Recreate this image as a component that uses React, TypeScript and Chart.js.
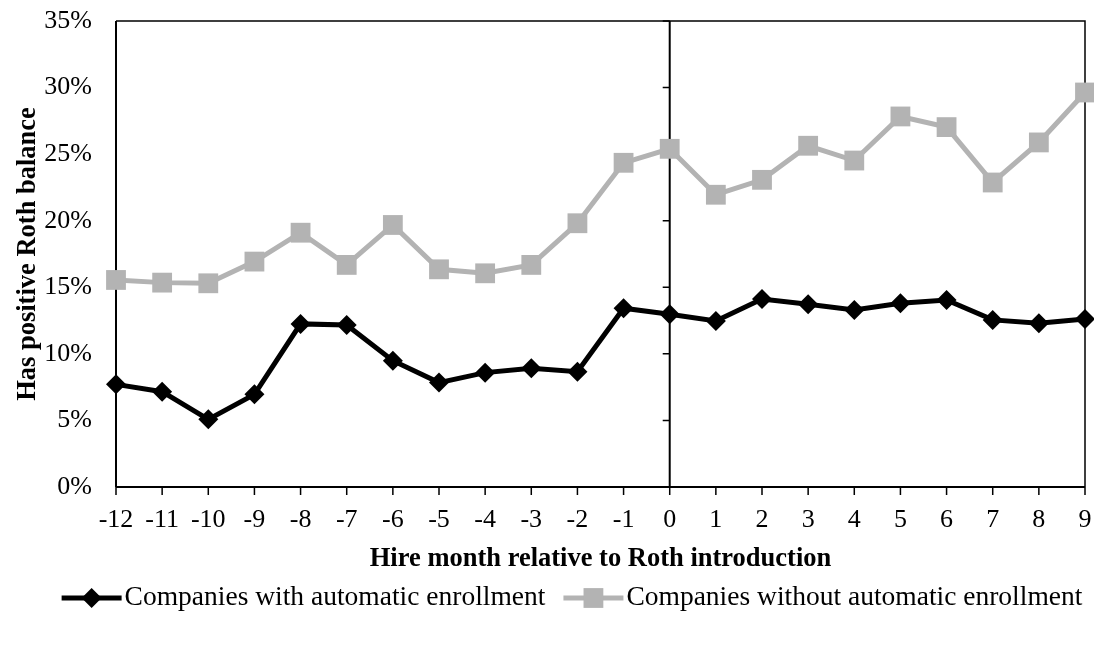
import React, { useEffect, useRef } from 'react';
import { Chart, registerables } from 'chart.js';

Chart.register(...registerables);

const FONT = "'Liberation Serif', 'Times New Roman', Times, serif";

const hireMonths = ['-12', '-11', '-10', '-9', '-8', '-7', '-6', '-5', '-4', '-3', '-2', '-1', '0', '1', '2', '3', '4', '5', '6', '7', '8', '9'];
const withAutoEnroll = [7.71, 7.16, 5.08, 6.96, 12.25, 12.17, 9.49, 7.84, 8.59, 8.92, 8.66, 13.43, 12.97, 12.47, 14.12, 13.72, 13.3, 13.8, 14.05, 12.55, 12.3, 12.62];
const withoutAutoEnroll = [15.55, 15.35, 15.3, 16.93, 19.1, 16.68, 19.68, 16.35, 16.05, 16.68, 19.81, 24.35, 25.4, 21.95, 23.07, 25.63, 24.52, 27.83, 27.03, 22.87, 25.88, 29.63];
const yTickValues = [0, 5, 10, 15, 20, 25, 30, 35];
const seriesNames = ['Companies with automatic enrollment', 'Companies without automatic enrollment'];
const seriesColors = ['#000000', '#b3b3b3'];
const yAxisTitle = 'Has positive Roth balance';
const xAxisTitle = 'Hire month relative to Roth introduction';
const zeroMonth = '0';

const framePlugin = {
  id: 'frame',
  beforeDatasetsDraw(chart: any) {
    const { ctx, chartArea, scales } = chart;
    const { left, right, top, bottom } = chartArea;
    ctx.save();
    ctx.strokeStyle = '#000';
    // x-axis tick marks (outside, below the axis)
    ctx.lineWidth = 1.5;
    ctx.beginPath();
    hireMonths.forEach((_, i) => {
      const px = scales.x.getPixelForValue(i);
      ctx.moveTo(px, bottom);
      ctx.lineTo(px, bottom + 8);
    });
    ctx.stroke();
    ctx.lineWidth = 2;
    ctx.beginPath();
    ctx.moveTo(left, bottom);
    ctx.lineTo(right, bottom);
    ctx.moveTo(left, top);
    ctx.lineTo(left, bottom);
    ctx.stroke();
    ctx.lineWidth = 1.5;
    ctx.beginPath();
    ctx.moveTo(left, top);
    ctx.lineTo(right, top);
    ctx.lineTo(right, bottom);
    ctx.stroke();
    const zx = scales.x.getPixelForValue(hireMonths.indexOf(zeroMonth));
    ctx.lineWidth = 2;
    ctx.beginPath();
    ctx.moveTo(zx, top);
    ctx.lineTo(zx, bottom);
    ctx.stroke();
    ctx.lineWidth = 1.5;
    ctx.beginPath();
    yTickValues.forEach((v) => {
      const py = scales.y.getPixelForValue(v);
      ctx.moveTo(zx - 7, py);
      ctx.lineTo(zx, py);
    });
    ctx.stroke();
    ctx.restore();
  },
};

const legendPlugin = {
  id: 'lineLegend',
  afterDraw(chart: any) {
    const ctx = chart.ctx;
    ctx.save();
    ctx.font = `27.5px ${FONT}`;
    ctx.textBaseline = 'middle';
    ctx.textAlign = 'left';
    const y = 598;
    const lineLen = 60;
    const textGap = 3;
    const itemGap = 18;
    const ds = chart.data.datasets;
    const widths = ds.map((d: any) => ctx.measureText(d.label).width);
    const total = widths.reduce((a: number, w: number) => a + lineLen + textGap + w, 0) + itemGap * (ds.length - 1);
    let x = 572 - total / 2;
    ds.forEach((d: any, i: number) => {
      ctx.strokeStyle = d.borderColor;
      ctx.lineWidth = d.borderWidth;
      ctx.beginPath();
      ctx.moveTo(x, y);
      ctx.lineTo(x + lineLen, y);
      ctx.stroke();
      const cx = x + lineLen / 2;
      const r = d.pointRadius;
      ctx.fillStyle = d.pointBackgroundColor;
      ctx.beginPath();
      if (d.pointStyle === 'rectRot') {
        ctx.moveTo(cx - r, y);
        ctx.lineTo(cx, y - r);
        ctx.lineTo(cx + r, y);
        ctx.lineTo(cx, y + r);
        ctx.closePath();
      } else {
        const s = Math.SQRT1_2 * r;
        ctx.rect(cx - s, y - s, 2 * s, 2 * s);
      }
      ctx.fill();
      ctx.fillStyle = '#000';
      ctx.fillText(d.label, x + lineLen + textGap, y);
      x += lineLen + textGap + widths[i] + itemGap;
    });
    ctx.restore();
  },
};

export default function App() {
  const canvasRef = useRef<HTMLCanvasElement | null>(null);

  useEffect(() => {
    if (!canvasRef.current) return;
    const chart = new Chart(canvasRef.current, {
      type: 'line',
      data: {
        labels: hireMonths,
        datasets: [
          {
            label: seriesNames[0],
            data: withAutoEnroll,
            borderColor: seriesColors[0],
            backgroundColor: seriesColors[0],
            pointBackgroundColor: seriesColors[0],
            pointBorderWidth: 0,
            borderWidth: 5,
            pointStyle: 'rectRot',
            pointRadius: 10,
            tension: 0,
            clip: false,
          } as any,
          {
            label: seriesNames[1],
            data: withoutAutoEnroll,
            borderColor: seriesColors[1],
            backgroundColor: seriesColors[1],
            pointBackgroundColor: seriesColors[1],
            pointBorderWidth: 0,
            borderWidth: 5,
            pointStyle: 'rect',
            pointRadius: 14,
            tension: 0,
            clip: false,
          } as any,
        ],
      },
      options: {
        animation: false,
        responsive: false,
        events: [],
        layout: { autoPadding: false, padding: { left: 0, top: 21, right: 9, bottom: 0 } },
        plugins: {
          legend: { display: false },
          tooltip: { enabled: false },
        },
        scales: {
          x: {
            type: 'category',
            offset: false,
            grid: {
              display: true,
              drawOnChartArea: false,
              drawTicks: true,
              tickLength: 15,
              color: 'rgba(0,0,0,0)',
              lineWidth: 1,
            },
            border: { display: false },
            ticks: {
              color: '#000',
              font: { family: FONT, size: 26 },
              padding: 3,
              maxRotation: 0,
              autoSkip: false,
            },
            title: {
              display: true,
              text: xAxisTitle,
              color: '#000',
              font: { family: FONT, size: 26.5, weight: 'bold' },
              padding: { top: 0, bottom: 70 },
            },
            afterFit: (s: any) => {
              s.height = 158;
              s.paddingLeft = 0;
              s.paddingRight = 0;
            },
          },
          y: {
            type: 'linear',
            min: 0,
            max: 35,
            grid: { display: false, drawTicks: false, tickLength: 0 },
            border: { display: false },
            ticks: {
              stepSize: 5,
              color: '#000',
              font: { family: FONT, size: 26 },
              padding: 24,
              callback: (v: any) => `${v}%`,
            },
            afterBuildTicks: (s: any) => {
              s.ticks = yTickValues.map((v) => ({ value: v }));
            },
            title: {
              display: true,
              text: yAxisTitle,
              color: '#000',
              font: { family: FONT, size: 26.5, weight: 'bold' },
              padding: { top: 12, bottom: 0 },
            },
            afterFit: (s: any) => {
              s.width = 116;
              s.paddingTop = 0;
              s.paddingBottom = 0;
            },
          },
        },
      },
      plugins: [framePlugin, legendPlugin],
    });
    return () => chart.destroy();
  }, []);

  return (
    <div style={{ position: 'fixed', left: 0, top: 0, width: 1094, height: 645, background: '#fff' }}>
      <canvas ref={canvasRef} width={1094} height={645} style={{ width: 1094, height: 645, display: 'block' }} />
    </div>
  );
}
